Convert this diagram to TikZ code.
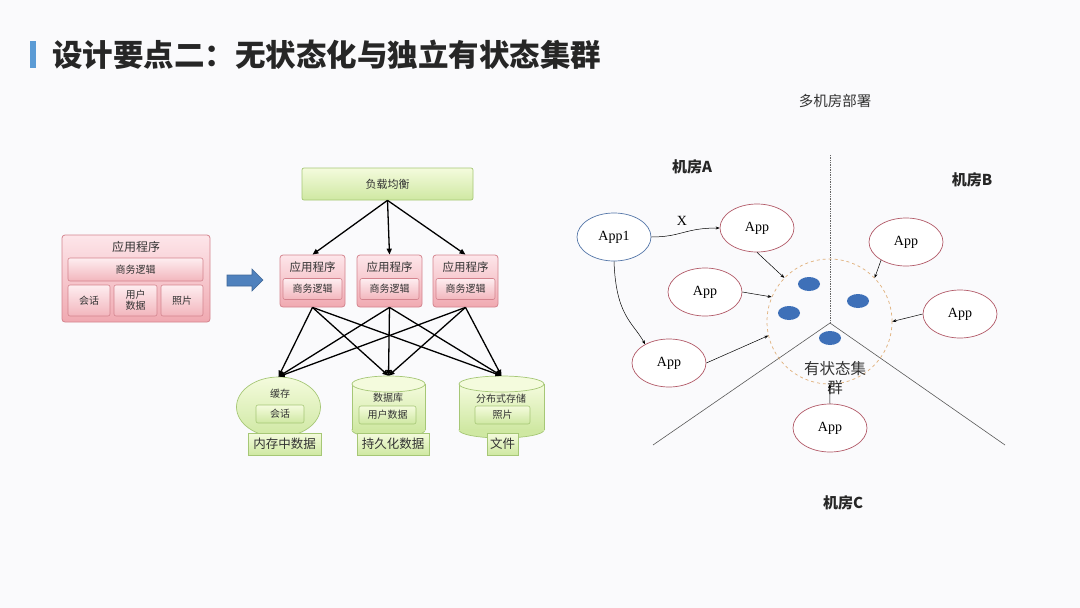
\documentclass[tikz,border=0pt]{standalone}
\usepackage{fontspec}
\setmainfont{Noto Sans CJK SC}
\newfontfamily\lser{Liberation Serif}
\usetikzlibrary{arrows.meta,shapes.geometric}
\definecolor{bg}{HTML}{FAFAFC}
\definecolor{titlec}{HTML}{262626}
\definecolor{barblue}{HTML}{5B9BD5}
\definecolor{pinkt}{HTML}{FDE6EA}
\definecolor{pinkd}{HTML}{F0A9B1}
\definecolor{pinkb}{HTML}{D4848E}
\definecolor{greent}{HTML}{F4FBDD}
\definecolor{greend}{HTML}{CFE8A2}
\definecolor{greenb}{HTML}{A6C776}
\definecolor{appred}{HTML}{B25A68}
\definecolor{appblue}{HTML}{5476A8}
\definecolor{blob}{HTML}{3E70B8}
\definecolor{dashc}{HTML}{E0B07A}
\definecolor{txt}{HTML}{333333}
\definecolor{fatblue}{HTML}{4F81BD}
\begin{document}
\begin{tikzpicture}[x=1pt,y=-1pt,
  pinkbox/.style={draw=pinkb, top color=pinkt, bottom color=pinkd, rounded corners=3pt, inner sep=0pt, line width=0.8pt},
  pinkin/.style={draw=pinkb, top color=pinkt!70!white, bottom color=pinkd!85!white, rounded corners=2pt, inner sep=0pt, line width=0.6pt, text=txt},
  greenbox/.style={draw=greenb, top color=greent, bottom color=greend, inner sep=0pt, line width=0.7pt, text=txt},
  greenin/.style={draw=greenb, top color=greent, bottom color=greend, rounded corners=2pt, inner sep=0pt, line width=0.6pt, text=txt},
  lbl/.style={text=txt, inner sep=0pt},
  fA/.style={font=\fontsize{12}{14}\selectfont},
  fB/.style={font=\fontsize{10}{12}\selectfont},
  fC/.style={font=\fontsize{12.5}{14}\selectfont},
  arr/.style={-{Triangle[length=6pt,width=5pt]}, line width=1.3pt, black},
  app/.style={ellipse, draw=appred, line width=0.7pt, fill=white, minimum width=74pt, minimum height=48pt, inner sep=0pt, font=\lser\fontsize{14}{14}\selectfont},
  ln/.style={-{Stealth[length=4pt,width=3pt]}, line width=0.5pt, black},
  blobst/.style={ellipse, fill=blob, minimum width=22pt, minimum height=14pt, inner sep=0pt},
  room/.style={font=\bfseries\fontsize{15}{16}\selectfont, text=titlec, inner sep=0pt}
]
\path[fill=bg] (0,0) rectangle (1080,608);
\useasboundingbox (0,0) rectangle (1080,608);

% title
\fill[barblue] (30,41) rectangle (36,68);
\node[anchor=west, inner sep=0pt, text=titlec, font=\bfseries\fontsize{30.5}{31}\selectfont] (title) at (52,55) {设计要点二：无状态化与独立有状态集群};

% ---------- left: monolith ----------
\node[pinkbox, minimum width=148pt, minimum height=87pt] (big) at (136,278.5) {};
\node[lbl, fA] (bigt) at (136,247) {应用程序};
\node[pinkin, fB, minimum width=135pt, minimum height=23pt] (biz) at (135.5,269.5) {商务逻辑};
\node[pinkin, fB, minimum width=42pt, minimum height=31pt] (s1) at (89,300.5) {会话};
\node[pinkin, fB, minimum width=43pt, minimum height=31pt, align=center, font=\fontsize{10}{11}\selectfont] (s2) at (135.5,300.5) {用户\\数据};
\node[pinkin, fB, minimum width=42pt, minimum height=31pt] (s3) at (182,300.5) {照片};

% fat arrow
\path[fill=fatblue, draw=fatblue!80!black, line width=0.6pt] (227,275) -- (252,275) -- (252,269) -- (263,280) -- (252,291) -- (252,286) -- (227,286) -- cycle;

% ---------- middle: load balancer ----------
\node[greenbox, font=\fontsize{11}{12}\selectfont, minimum width=171pt, minimum height=32pt, rounded corners=2pt] (lb) at (387.5,184) {负载均衡};

\foreach \n/\x in {a1/312.5, a2/389.5, a3/465.5}{
  \node[pinkbox, minimum width=65pt, minimum height=52pt] (\n) at (\x,281) {};
  \node[lbl, font=\fontsize{11.5}{12}\selectfont] (\n t) at (\x,267) {应用程序};
  \node[pinkin, fB, minimum width=59pt, minimum height=21pt] (\n b) at (\x,289) {商务逻辑};
}
\draw[arr] (lb.south) -- (a1.north);
\draw[arr] (lb.south) -- (a2.north);
\draw[arr] (lb.south) -- (a3.north);

% storage
\node[ellipse, draw=greenb, top color=greent, bottom color=greend, line width=0.7pt, minimum width=84pt, minimum height=60pt, inner sep=0pt] (cache) at (278.5,407) {};
\node[lbl, fB] (cachet) at (280,394) {缓存};
\node[greenin, fB, minimum width=48pt, minimum height=18pt] (cachein) at (280,414) {会话};

% db cylinder
\node[inner sep=0pt, minimum width=73pt, minimum height=60pt] (db) at (388.5,406) {};
\filldraw[draw=greenb, fill=greend, line width=0.7pt] (388.5,430) ellipse [x radius=36.5, y radius=8];
\fill[top color=greent, bottom color=greend] (352,384) rectangle (425,430);
\draw[greenb, line width=0.7pt] (352,384) -- (352,430) (425,384) -- (425,430);
\filldraw[draw=greenb, fill=greent, line width=0.7pt] (388.5,384) ellipse [x radius=36.5, y radius=8];
\node[lbl, fB] (dbt) at (388,398) {数据库};
\node[greenin, fB, minimum width=57pt, minimum height=18pt] (dbin) at (387.5,415) {用户数据};

% distributed storage cylinder
\node[inner sep=0pt, minimum width=85pt, minimum height=60pt] (ds) at (501.5,406) {};
\filldraw[draw=greenb, fill=greend, line width=0.7pt] (501.5,430) ellipse [x radius=42.5, y radius=8];
\fill[top color=greent, bottom color=greend] (459,384) rectangle (544,430);
\draw[greenb, line width=0.7pt] (459,384) -- (459,430) (544,384) -- (544,430);
\filldraw[draw=greenb, fill=greent, line width=0.7pt] (501.5,384) ellipse [x radius=42.5, y radius=8];
\node[lbl, fB] (dst) at (501,399) {分布式存储};
\node[greenin, fB, minimum width=55pt, minimum height=18pt] (dsin) at (502.5,415) {照片};

% labels
\node[greenbox, fC, minimum width=73pt, minimum height=22pt] (l1) at (284.5,444) {内存中数据};
\node[greenbox, fC, minimum width=72pt, minimum height=22pt] (l2) at (393,444) {持久化数据};
\node[greenbox, fC, minimum width=31pt, minimum height=22pt] (l3) at (502.5,444) {文件};

% app -> storage
\foreach \a in {a1,a2,a3}{
  \draw[arr] (\a.south) -- (cache.north);
  \draw[arr] (\a.south) -- (db.north);
  \draw[arr] (\a.south) -- (ds.north);
}

% ---------- right: multi-room ----------
\node[lbl, font=\fontsize{14.5}{15}\selectfont] (mt) at (835,101) {多机房部署};
\node[room] (rA) at (692,167) {机房A};
\node[room] (rB) at (972,180) {机房B};
\node[room] (rC) at (843,503) {机房C};

\coordinate (vtop) at (830,155);
\coordinate (ctr) at (830,323);
\coordinate (lend) at (653,445);
\coordinate (rend) at (1005,445);
\draw[black!60, line width=0.7pt, densely dotted] (vtop) -- (ctr);
\draw[black!65, line width=0.6pt] (lend) -- (ctr) -- (rend);

\node[circle, draw=dashc, dashed, line width=0.7pt, minimum size=125pt, inner sep=0pt] (clu) at (829.5,321.5) {};
\node[blobst] (b1) at (809,284) {};
\node[blobst] (b2) at (789,313) {};
\node[blobst] (b3) at (858,301) {};
\node[blobst] (b4) at (830,338) {};
\node[lbl, font=\fontsize{15.5}{19}\selectfont, align=center] (clt) at (835,378) {有状态集\\群};

\node[app, draw=appblue] (app1) at (614,237) {App1};
\node[app] (appT) at (757,228) {App};
\node[app] (appL) at (705,292) {App};
\node[app] (appBL) at (669,363) {App};
\node[app] (appBT) at (906,242) {App};
\node[app] (appBR) at (960,314) {App};
\node[app] (appC) at (830,428) {App};
\node[inner sep=0pt, font=\lser\fontsize{14}{14}\selectfont] (xl) at (682,221) {X};

\draw[ln] (app1.east) .. controls +(30,0) and +(-35,0) .. (appT.west);
\draw[ln] (app1.south) .. controls +(2,55) and +(-12,-22) .. (appBL.142);
\draw[ln] (appT.south) -- (clu.136);
\draw[ln] (appL.east) -- (clu.157);
\draw[ln] (appBL.east) -- (clu.193);
\draw[ln] (appBT.216) -- (clu.44);
\draw[ln] (appBR.west) -- (clu.0);
\draw[ln] (appC.north) -- (clu.270);
\end{tikzpicture}
\end{document}
